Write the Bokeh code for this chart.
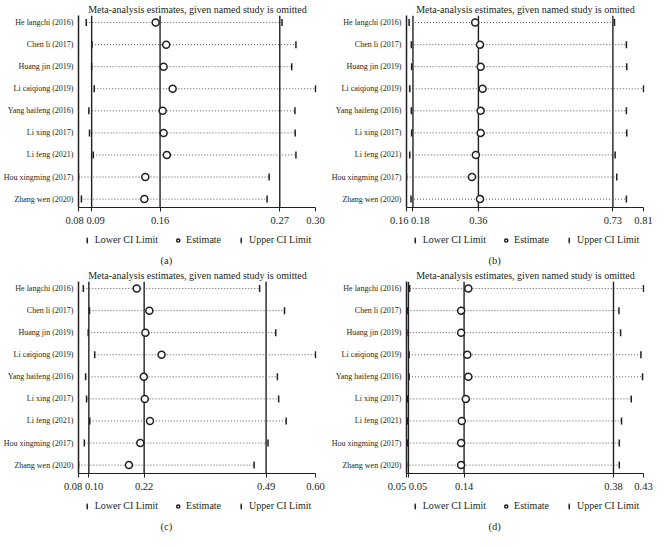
import numpy as np
from bokeh.plotting import figure
from bokeh.models import (Range1d, FixedTicker, CustomJSTickFormatter, Legend, LegendItem,
                          Span, Title, ColumnDataSource, LinearAxis)
from bokeh.layouts import column, row
from bokeh.embed import file_html
from bokeh.resources import INLINE

# ---------------- data ----------------
studies = ["He langchi (2016)", "Chen li (2017)", "Huang jin (2019)", "Li caiqiong (2019)",
           "Yang haifeng (2016)", "Li xing (2017)", "Li feng (2021)", "Hou xingming (2017)",
           "Zhang wen (2020)"]

a_lower = [0.0872, 0.0925, 0.0922, 0.0946, 0.0896, 0.0902, 0.0937, 0.0800, 0.0827]
a_est   = [0.1516, 0.1614, 0.1590, 0.1674, 0.1581, 0.1590, 0.1620, 0.1420, 0.1411]
a_upper = [0.2689, 0.2818, 0.2779, 0.3000, 0.2809, 0.2811, 0.2818, 0.2569, 0.2550]
a_overall = [0.0922, 0.1557, 0.2668]

b_lower = [0.1671, 0.1733, 0.1741, 0.1688, 0.1733, 0.1741, 0.1688, 0.1600, 0.1724]
b_est   = [0.3483, 0.3616, 0.3634, 0.3687, 0.3634, 0.3634, 0.3501, 0.3395, 0.3616]
b_upper = [0.7303, 0.7630, 0.7639, 0.8100, 0.7630, 0.7639, 0.7321, 0.7365, 0.7630]
b_overall = [0.1777, 0.3572, 0.7259]

c_lower = [0.0906, 0.1041, 0.1013, 0.1155, 0.0956, 0.0977, 0.1048, 0.0928, 0.0800]
c_est   = [0.2077, 0.2354, 0.2268, 0.2623, 0.2233, 0.2254, 0.2368, 0.2155, 0.1907]
c_upper = [0.4773, 0.5319, 0.5127, 0.6000, 0.5163, 0.5191, 0.5355, 0.4957, 0.4652]
c_overall = [0.1027, 0.2240, 0.4915]

d_lower = [0.0551, 0.0516, 0.0505, 0.0542, 0.0542, 0.0516, 0.0516, 0.0516, 0.0500]
d_est   = [0.1491, 0.1376, 0.1376, 0.1475, 0.1491, 0.1451, 0.1386, 0.1376, 0.1376]
d_upper = [0.4300, 0.3906, 0.3932, 0.4258, 0.4284, 0.4103, 0.3947, 0.3911, 0.3911]
d_overall = [0.0531, 0.1423, 0.3818]

captions = ["(a)", "(b)", "(c)", "(d)"]
title_text = "Meta-analysis estimates, given named study is omitted"
legend_labels = ["Lower CI Limit", "Estimate", "Upper CI Limit"]

# ---------------- style ----------------
FONT = "Liberation Serif"
INK = "#231f20"
W = 328
H_MAIN, H_LEG = 228, 38
LEFT, RIGHT = 76, 12
TICK_FS = "10.5px"

CI_MARK = dict(marker="dash", angle=np.pi / 2, size=7, line_color=INK, line_width=1.5)
EST_MARK = dict(marker="circle", size=7, line_color=INK, fill_color="white", line_width=1.5)


def make_panel(caption, lower, est, upper, overall):
    n = len(studies)
    ys = list(range(n, 0, -1))
    lo_min, hi_max = min(lower), max(upper)
    span = hi_max - lo_min
    p = figure(width=W, height=H_MAIN, output_backend="svg", toolbar_location=None,
               x_range=Range1d(lo_min, hi_max + span * 0.004),
               y_range=Range1d(0.62, n + 0.32),
               min_border_left=LEFT, min_border_right=RIGHT,
               min_border_top=0, min_border_bottom=0)
    p.title.text = title_text
    p.title.align = "center"
    p.title.text_font = FONT
    p.title.text_font_size = "10px"
    p.title.text_font_style = "normal"
    p.title.text_color = INK
    p.title.standoff = 2
    p.outline_line_color = None
    p.xgrid.visible = False
    p.ygrid.visible = False

    src = ColumnDataSource(dict(y=ys, lower=lower, est=est, upper=upper))
    for v in overall:
        p.add_layout(Span(location=v, dimension="height", line_color=INK,
                          line_width=1.4, level="underlay"))
    p.segment(x0="lower", y0="y", x1="upper", y1="y", source=src,
              line_dash="1 2", line_color="#555555", line_width=1)
    p.scatter("lower", "y", source=src, **CI_MARK)
    p.scatter("est", "y", source=src, **EST_MARK)
    p.scatter("upper", "y", source=src, **CI_MARK)

    # x axis 1: line + tick marks at min, overall L/E/U, max (no labels)
    ticks = [lo_min] + list(overall) + [hi_max]
    xa = p.xaxis[0]
    xa.ticker = FixedTicker(ticks=ticks)
    xa.bounds = (lo_min, hi_max)
    xa.formatter = CustomJSTickFormatter(code="return '';")
    xa.major_tick_out = 4
    xa.major_tick_in = 0
    xa.minor_tick_line_color = None
    xa.major_label_standoff = 0
    xa.axis_line_color = INK
    xa.major_tick_line_color = INK

    # x axis 2: tick labels; the two crowded low values share one label
    mid = (lo_min + overall[0]) / 2
    pair = f"{lo_min:.2f} {overall[0]:.2f}"
    xb = LinearAxis(ticker=FixedTicker(ticks=[mid] + list(overall[1:]) + [hi_max]),
                    formatter=CustomJSTickFormatter(args=dict(mid=mid, pair=pair),
                                                    code="return tick === mid ? pair : tick.toFixed(2);"),
                    axis_line_color=None, major_tick_line_color=None,
                    minor_tick_line_color=None, major_tick_out=0, major_tick_in=0,
                    major_label_standoff=3, major_label_text_font=FONT,
                    major_label_text_font_size=TICK_FS, major_label_text_color=INK)
    p.add_layout(xb, "below")

    # y axis
    ya = p.yaxis[0]
    ya.ticker = FixedTicker(ticks=ys)
    ya.major_label_overrides = {y: nm for y, nm in zip(ys, studies)}
    ya.major_tick_out = 0
    ya.major_tick_in = 0
    ya.minor_tick_line_color = None
    ya.axis_line_width = 1.5
    ya.axis_line_color = INK
    ya.major_label_standoff = 5
    ya.major_label_text_font = FONT
    ya.major_label_text_font_size = "8px"
    ya.major_label_text_color = INK

    # legend strip + caption (separate small figure, legend inside its frame)
    lg = figure(width=W, height=H_LEG, output_backend="svg", toolbar_location=None,
                x_range=Range1d(0, 1), y_range=Range1d(0, 1),
                x_axis_location=None, y_axis_location=None,
                min_border_left=LEFT, min_border_right=RIGHT,
                min_border_top=0, min_border_bottom=0)
    lg.outline_line_color = None
    lg.xgrid.visible = False
    lg.ygrid.visible = False
    # key renderers sit outside the visible range: only their legend swatches show
    k_lo = lg.ellipse(x=[-1], y=[-1], width=1.6, height=6, width_units="screen",
                      height_units="screen", fill_color=INK, line_color=None)
    k_est = lg.scatter([-1], [-1], **EST_MARK)
    k_up = lg.ellipse(x=[-1], y=[-1], width=1.6, height=6, width_units="screen",
                      height_units="screen", fill_color=INK, line_color=None)
    keys = [k_lo, k_est, k_up]
    legend = Legend(items=[LegendItem(label=lab, renderers=[r])
                           for lab, r in zip(legend_labels, keys)],
                    orientation="horizontal", location="center",
                    border_line_color=None, background_fill_alpha=0,
                    label_text_font=FONT, label_text_font_size="10px",
                    label_text_color=INK, padding=0, margin=0, spacing=16,
                    glyph_width=8, glyph_height=12, label_standoff=4, label_height=12)
    lg.add_layout(legend, "center")
    cap = Title(text=caption, align="left", offset=W / 2 - LEFT - 6,
                text_font=FONT, text_font_size="10.5px", text_font_style="normal",
                text_color=INK, standoff=2)
    lg.add_layout(cap, "below")
    return column(p, lg, spacing=0)


panels = [make_panel(captions[0], a_lower, a_est, a_upper, a_overall),
          make_panel(captions[1], b_lower, b_est, b_upper, b_overall),
          make_panel(captions[2], c_lower, c_est, c_upper, c_overall),
          make_panel(captions[3], d_lower, d_est, d_upper, d_overall)]

layout = column(row(panels[0], panels[1], spacing=0), row(panels[2], panels[3], spacing=0),
                spacing=0)

open("out.html", "w").write(file_html(layout, INLINE))
